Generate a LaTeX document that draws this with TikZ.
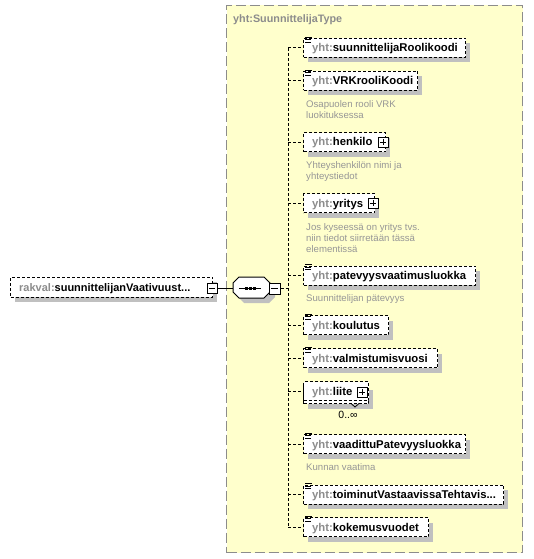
\documentclass[tikz,border=0pt]{standalone}
\usepackage{fontspec}
\setmainfont{Liberation Sans}
\definecolor{yel}{RGB}{255,255,204}
\definecolor{shd}{RGB}{192,192,192}
\definecolor{pfx}{RGB}{140,140,140}
\definecolor{dscgray}{RGB}{150,150,150}
\definecolor{frm}{RGB}{140,140,140}
\tikzset{
 elembox/.style={draw=black, fill=white, line width=1pt, dash pattern=on 3pt off 2pt, minimum height=19pt, inner sep=0pt, anchor=west},
 shadowfill/.style={fill=shd, draw=none},
 nm/.style={font=\fontsize{11.3}{13}\selectfont\bfseries, inner sep=0pt, anchor=base west},
 dsc/.style={font=\fontsize{9.6}{11}\selectfont, text=dscgray, inner sep=0pt, anchor=base west},
 conn/.style={draw=black, line width=1pt, dash pattern=on 3pt off 2pt},
 pmbox/.style={draw=black, solid, fill=white, line width=1pt, minimum size=10pt, inner sep=0pt},
 minusbox/.style={pmbox, path picture={\draw[line width=1pt] ([xshift=2pt]path picture bounding box.west) -- ([xshift=-2pt]path picture bounding box.east);}},
 plusbox/.style={pmbox, path picture={\draw[line width=1pt] ([xshift=2pt]path picture bounding box.west) -- ([xshift=-2pt]path picture bounding box.east) ([yshift=-2pt]path picture bounding box.north) -- ([yshift=2pt]path picture bounding box.south);}},
 icon/.style={draw=black, solid, line width=0.8pt},
 seqbox/.style={draw=none, minimum width=37pt, minimum height=21pt, inner sep=0pt},
 octo/.style={draw=black, fill=white, line width=1pt},
 framebox/.style={draw=frm, fill=yel, line width=1pt, dash pattern=on 10pt off 4pt, inner sep=0pt, anchor=north west},
 ttl/.style={font=\fontsize{10.8}{13}\selectfont\bfseries, text=pfx, inner sep=0pt, anchor=base west},
 mult/.style={font=\fontsize{10.5}{12}\selectfont, inner sep=0pt, anchor=base},
}
\newcommand\elemnode[4]{%
 \fill[shadowfill] (308,#2-4.5) rectangle (#3+5,#2+14.5);
 \node[elembox, minimum width={#3-303}] (#1) at (303,#2) {};
 \node[nm] (#1t) at (312,#2+4) {\textcolor{pfx}{yht:}#4};
 \draw[conn] (spine|-#1.west) -- (#1.west);
}
\newcommand\lineicon[1]{\draw[icon] ([xshift=2pt,yshift=1pt]#1.north west) -- ++(7,0) ([xshift=2pt,yshift=-1.5pt]#1.north west) -- ++(6,0) ([xshift=2pt,yshift=-4pt]#1.north west) -- ++(6,0);}
\newcommand\octagon{(239,277) -- (264,277) -- (270,283) -- (270,292) -- (264,298) -- (239,298) -- (233,292) -- (233,283) -- cycle}
\begin{document}
\begin{tikzpicture}[x=1pt,y=-1pt]
\useasboundingbox (0,0) rectangle (533,559);
\node[framebox, minimum width=296pt, minimum height=547pt] (type) at (226,5) {};
\node[ttl] (title) at (233,23) {yht:SuunnittelijaType};
\coordinate (spine) at (288,0);

\elemnode{c1}{48}{465}{suunnittelijaRoolikoodi}\lineicon{c1}
\elemnode{c2}{81}{417}{VRKrooliKoodi}\lineicon{c2}
\node[dsc] (d2a) at (306,107.5) {Osapuolen rooli VRK};
\node[dsc] (d2b) at (306,119) {luokituksessa};
\elemnode{c3}{142}{385}{henkilo}
\node[plusbox] (c3p) at (383,142) {};
\node[dsc] (d3a) at (306,168.5) {Yhteyshenkilön nimi ja};
\node[dsc] (d3b) at (306,179.5) {yhteystiedot};
\elemnode{c4}{203}{374}{yritys}
\node[plusbox] (c4p) at (373,203) {};
\node[dsc] (d4a) at (306,230.5) {Jos kyseessä on yritys tvs.};
\node[dsc] (d4b) at (306,241.5) {niin tiedot siirretään tässä};
\node[dsc] (d4c) at (306,252.5) {elementissä};
\elemnode{c5}{275.5}{475}{patevyysvaatimusluokka}\lineicon{c5}
\node[dsc] (d5a) at (306,301) {Suunnittelijan pätevyys};
\elemnode{c6}{325}{388}{koulutus}\lineicon{c6}
\elemnode{c7}{358}{437}{valmistumisvuosi}\lineicon{c7}
\fill[shadowfill] (308,389.5) rectangle (373,408.5);
\node[elembox, minimum width=65pt] (c8b) at (303,394) {};
\node[elembox, minimum width=65pt] (c8) at (303,391) {};
\node[nm] (c8t) at (312,395) {\textcolor{pfx}{yht:}liite};
\draw[conn] (spine|-c8.west) -- (c8.west);
\node[plusbox] (c8p) at (362,392) {};
\draw[line width=0.8pt] (351,403.5) -- (355,407) -- (359,403.5);
\node[mult] (c8m) at (348,418) {0..∞};
\elemnode{c9}{444}{465}{vaadittuPatevyysluokka}\lineicon{c9}
\node[dsc] (d9a) at (306,470.5) {Kunnan vaatima};
\elemnode{c10}{494.5}{503}{toiminutVastaavissaTehtavis...}\lineicon{c10}
\elemnode{c11}{527}{428}{kokemusvuodet}\lineicon{c11}
\draw[conn] (spine|-c1.west) -- (spine|-c11.west);

\fill[shadowfill] (15,282) rectangle (217,302);
\node[elembox, minimum width=202pt, minimum height=20pt] (root) at (10,287) {};
\node[nm, font=\fontsize{11}{13}\selectfont\bfseries] (roott) at (19,291) {\textcolor{pfx}{rakval:}suunnittelijanVaativuust...};
\node[minusbox] (rootm) at (212,288) {};
\fill[shadowfill, shift={(5,5)}] \octagon;
\node[seqbox] (seq) at (251.5,287.5) {};
\draw[octo] \octagon;
\draw[line width=1pt] (239,288) -- (261,288);
\fill (246.5,288) +(-1.5,-1.5) rectangle +(1.5,1.5);
\fill (250.5,288) +(-1.5,-1.5) rectangle +(1.5,1.5);
\fill (254.5,288) +(-1.5,-1.5) rectangle +(1.5,1.5);
\node[minusbox, minimum size=11pt] (seqm) at (274.5,288.5) {};
\draw[line width=1pt] (rootm.east) -- (rootm.east -| seq.west);
\draw[conn] (seqm.east) -- (spine|-seqm.east);
\end{tikzpicture}
\end{document}
